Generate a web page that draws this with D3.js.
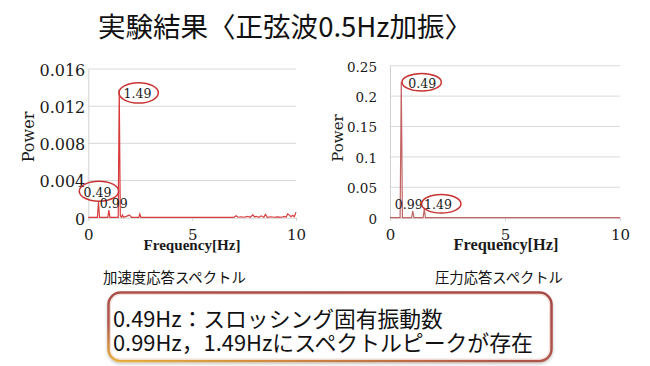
<!DOCTYPE html>
<html><head><meta charset="utf-8">
<script src="https://cdn.jsdelivr.net/npm/d3@7"></script>
<style>html,body{margin:0;padding:0;background:#fff;}svg{display:block;}</style>
</head><body>
<script>
// ---- data ----
const freqTicks = [0, 5, 10];
const freqTickLabels = ["0", "5", "10"];
const accelTicks = [0, 0.004, 0.008, 0.012, 0.016];
const accelTickLabels = ["0", "0.004", "0.008", "0.012", "0.016"];
const pressTicks = [0, 0.05, 0.1, 0.15, 0.2, 0.25];
const pressTickLabels = ["0", "0.05", "0.1", "0.15", "0.2", "0.25"];

// acceleration response spectrum [Hz, power]
const accelFreq = [0, 0.44, 0.49, 0.54, 0.94, 0.99, 1.04, 1.44, 1.49, 1.54, 1.6, 1.64, 1.7, 1.92, 1.97, 2.02, 2.08, 2.43, 2.48, 2.53,
  7.0, 7.12, 7.2, 7.36, 7.5, 7.68, 7.8, 7.92, 8.0, 8.08, 8.2, 8.32, 8.45, 8.53, 8.62, 8.8, 8.95, 9.12, 9.3, 9.44, 9.52, 9.6, 9.68, 9.76, 9.84, 9.92, 10];
const accelPower = [0.00003, 0.00003, 0.00172, 0.00003, 0.00003, 0.00082, 0.00003, 0.00003, 0.0138, 0.0002, 0.00005, 0.0003, 0.00005, 0.00022, 0.0003, 0.0002, 0.00003, 0.00003, 0.0004, 0.00003,
  0.00003, 0.0002, 0.00005, 0.0001, 0.00005, 0.00015, 0.00005, 0.0003, 0.0001, 0.00015, 0.00005, 0.0002, 0.00005, 0.00035, 0.00005, 0.0001, 0.00005, 0.00008, 0.00005, 0.00015, 0.00005, 0.0004, 0.00028, 0.0001, 0.00025, 0.0001, 0.0006];

// pressure response spectrum [Hz, power]
const pressFreq = [0, 0.44, 0.49, 0.54, 0.94, 0.99, 1.04, 1.44, 1.49, 1.54, 10];
const pressPower = [0.0002, 0.0002, 0.2237, 0.0002, 0.0002, 0.011, 0.0002, 0.0002, 0.0143, 0.0002, 0.0002];

// peak labels
const accelPeaks = [{f: 0.49, p: 0.00172, t: "0.49", circ: true}, {f: 0.99, p: 0.00082, t: "0.99", circ: false}, {f: 1.49, p: 0.0138, t: "1.49", circ: true}];
const pressPeaks = [{f: 0.49, p: 0.2237, t: "0.49", circ: true}, {f: 0.99, p: 0.011, t: "0.99", circ: false}, {f: 1.49, p: 0.0143, t: "1.49", circ: true}];

const titleText = "実験結果〈正弦波0.5Hz加振〉";
const captions = ["加速度応答スペクトル", "圧力応答スペクトル"];
const boxLines = ["0.49Hz：スロッシング固有振動数", "0.99Hz，1.49Hzにスペクトルピークが存在"];

// ---- layout ----
const W = 650, H = 366;
const svg = d3.select("body").append("svg").attr("width", W).attr("height", H);
svg.append("rect").attr("width", W).attr("height", H).attr("fill", "#fff");

const SERIF = "'Liberation Serif','Times New Roman',serif";
const DSERIF = "'DejaVu Serif',serif";
const JP = "'Noto Sans CJK JP','Noto Sans',sans-serif";

// scale a text's font-size so its natural width matches a target width
function fit(sel, target) {
  const w = sel.node().getComputedTextLength();
  if (w > 0) {
    const fs = parseFloat(sel.attr("font-size"));
    sel.attr("font-size", (fs * target / w).toFixed(2));
  }
  return sel;
}

function drawChart(o) {
  const x = d3.scaleLinear().domain([0, 10]).range([o.x0, o.x1]);
  const y = d3.scaleLinear().domain([0, o.ymax]).range([o.y0, o.y1]);
  const g = svg.append("g");

  g.append("g").selectAll("line").data(o.yTicks.slice(1)).join("line")
    .attr("x1", o.x0).attr("x2", o.x1).attr("y1", d => y(d)).attr("y2", d => y(d))
    .attr("stroke", "#d9d9d9").attr("stroke-width", 1);

  const ya = g.append("g").attr("transform", `translate(${o.x0},0)`)
    .call(d3.axisLeft(y).tickValues(o.yTicks).tickFormat((d, i) => o.yLabels[i]).tickSize(0).tickPadding(o.yPad));
  ya.select(".domain").attr("stroke", "#d0d0d0");
  ya.selectAll("text").attr("font-family", o.yFont).attr("font-size", o.yFontSize).attr("fill", "#1a1a1a").attr("dy", "0.4em");

  const xa = g.append("g").attr("transform", `translate(0,${o.y0})`)
    .call(d3.axisBottom(x).tickValues(freqTicks).tickFormat((d, i) => freqTickLabels[i]).tickSize(3).tickPadding(9));
  xa.select(".domain").attr("stroke", "#d0d0d0");
  xa.selectAll("line").attr("stroke", "#d0d0d0");
  xa.selectAll("text").attr("font-family", DSERIF).attr("font-size", 15).attr("fill", "#1a1a1a");

  fit(g.append("text").attr("x", o.xtX).attr("y", o.y0 + 32)
    .attr("text-anchor", "middle").attr("font-family", SERIF).attr("font-weight", "bold")
    .attr("font-size", 16).attr("fill", "#1a1a1a").text("Frequency[Hz]"), o.xtLen);
  g.append("text").attr("transform", `translate(${o.ptX},${o.ptY}) rotate(-90)`)
    .attr("text-anchor", "middle").attr("font-family", DSERIF)
    .attr("font-size", o.ptSize).attr("fill", "#1a1a1a").text("Power");

  const pts = o.fx.map((f, i) => [f, o.py[i]]);
  g.append("path").datum(pts)
    .attr("d", d3.line().x(d => x(d[0])).y(d => y(d[1])))
    .attr("fill", "none").attr("stroke", o.color).attr("stroke-width", 1.2);

  o.peaks.forEach((pk, i) => {
    const off = o.labelOff[i];
    const cx = x(pk.f) + off[0], by = y(pk.p) + off[1];
    if (pk.circ) {
      g.append("ellipse").attr("cx", cx + off[2]).attr("cy", by - 5.5)
        .attr("rx", 19.7).attr("ry", off[3]).attr("fill", "none")
        .attr("stroke", "#c83434").attr("stroke-width", 1.5);
    }
    fit(g.append("text").attr("x", cx).attr("y", by).attr("text-anchor", "middle")
      .attr("font-family", DSERIF).attr("font-size", 15)
      .attr("fill", "#1a1a1a").text(pk.t), 28);
  });
}

drawChart({
  x0: 88.3, x1: 296, y0: 217.7, y1: 69, ymax: 0.016,
  yTicks: accelTicks, yLabels: accelTickLabels, yPad: 3,
  yFont: DSERIF, yFontSize: 16,
  xtX: 192, xtLen: 97, ptX: 34, ptY: 137, ptSize: 16,
  fx: accelFreq, py: accelPower, color: "#d93a3a",
  peaks: accelPeaks,
  labelOff: [[-1, -5, 1.5, 10], [5, -2.4, 0, 0], [18.2, 8.9, 1.2, 10.2]]
});

drawChart({
  x0: 390, x1: 620, y0: 217.7, y1: 65.7, ymax: 0.25,
  yTicks: pressTicks, yLabels: pressTickLabels, yPad: 13,
  yFont: DSERIF, yFontSize: 13.5,
  xtX: 506, xtLen: 105, ptX: 343, ptY: 138, ptSize: 15,
  fx: pressFreq, py: pressPower, color: "#c26464",
  peaks: pressPeaks,
  labelOff: [[21, 6, -0.6, 8.8], [-4, -1.7, 0, 0], [13.7, 0.3, 3.3, 9.3]]
});

// title
fit(svg.append("text").attr("x", 98).attr("y", 37).attr("font-family", JP)
  .attr("font-size", 28).attr("fill", "#111").text(titleText), 374);

// captions
fit(svg.append("text").attr("x", 103).attr("y", 283).attr("font-family", JP)
  .attr("font-size", 14.3).attr("fill", "#111").text(captions[0]), 143);
fit(svg.append("text").attr("x", 435).attr("y", 283).attr("font-family", JP)
  .attr("font-size", 14.3).attr("fill", "#111").text(captions[1]), 128);

// summary box
const defs = svg.append("defs");
const grad = defs.append("linearGradient").attr("id", "bx").attr("x1", "0.6").attr("y1", "0").attr("x2", "0").attr("y2", "1");
grad.append("stop").attr("offset", "0").attr("stop-color", "#a84a44");
grad.append("stop").attr("offset", "0.6").attr("stop-color", "#b0564a");
grad.append("stop").attr("offset", "1").attr("stop-color", "#e6b03c");
const flt = defs.append("filter").attr("id", "sh").attr("x", "-5%").attr("y", "-10%").attr("width", "110%").attr("height", "130%");
flt.append("feDropShadow").attr("dx", 0).attr("dy", 1.5).attr("stdDeviation", 1.5).attr("flood-color", "#000").attr("flood-opacity", 0.25);

svg.append("rect").attr("x", 108.5).attr("y", 292.5).attr("width", 443).attr("height", 68.5).attr("rx", 12)
  .attr("fill", "#fff").attr("stroke", "url(#bx)").attr("stroke-width", 2.5).attr("filter", "url(#sh)");
svg.append("rect").attr("x", 110.5).attr("y", 294.5).attr("width", 439).attr("height", 64.5).attr("rx", 10.5)
  .attr("fill", "none").attr("stroke", "#f2dcd6").attr("stroke-width", 1);

fit(svg.append("text").attr("x", 113).attr("y", 327).attr("font-family", JP)
  .attr("font-size", 22).attr("fill", "#111").text(boxLines[0]), 330);
fit(svg.append("text").attr("x", 113).attr("y", 351).attr("font-family", JP)
  .attr("font-size", 22).attr("fill", "#111").text(boxLines[1]), 420);
</script>
</body></html>
